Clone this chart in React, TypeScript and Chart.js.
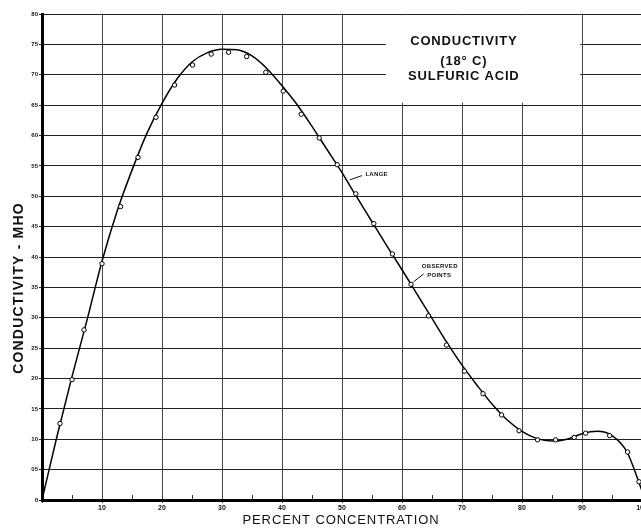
import React, { useEffect, useRef } from "react";
import { Chart, registerables } from "chart.js";

Chart.register(...registerables);

// Observed points
const obsX = [3.0, 5.0, 7.0, 10.0, 13.1, 16.0, 19.0, 22.1, 25.1, 28.2, 31.1, 34.1, 37.3, 40.2, 43.2, 46.2, 49.2, 52.3, 55.3, 58.4, 61.5, 64.4, 67.4, 70.4, 73.5, 76.6, 79.5, 82.6, 85.6, 88.7, 90.6, 94.6, 97.6, 99.5];
const obsY = [12.6, 19.8, 28.0, 38.9, 48.3, 56.4, 63.0, 68.3, 71.6, 73.4, 73.7, 73.0, 70.4, 67.3, 63.5, 59.6, 55.2, 50.4, 45.5, 40.5, 35.5, 30.3, 25.5, 21.2, 17.5, 14.0, 11.4, 9.9, 9.9, 10.3, 11.0, 10.6, 7.9, 3.0];

// Smooth curve (Lange)
const curveX = [0, 2.5, 5, 7.5, 10, 12.5, 15, 17.5, 20, 22.5, 25, 27.5, 30, 32.5, 35, 37.5, 40, 42.5, 45, 47.5, 50, 52.5, 55, 57.5, 60, 62.5, 65, 67.5, 70, 72.5, 75, 77.5, 80, 82.5, 85, 87.5, 90, 92.5, 95, 97.5, 100];
const curveY = [0, 10.5, 20.3, 29.6, 39.3, 47.5, 54.3, 60.4, 65.3, 69.3, 72.1, 73.6, 74.2, 74.1, 73.1, 71.0, 68.2, 65.1, 61.5, 57.7, 53.9, 49.8, 45.8, 41.8, 37.9, 33.9, 29.9, 25.9, 22.2, 18.9, 15.8, 13.2, 11.3, 10.1, 9.7, 10.0, 10.9, 11.3, 10.6, 7.9, 1.5];

const titleLines = ["CONDUCTIVITY", "(18° C)", "SULFURIC ACID"];
const xTitle = "PERCENT CONCENTRATION";
const yTitle = "CONDUCTIVITY - MHO";

const annot = {
  id: "annot",
  beforeDatasetsDraw(chart: any) {
    const { ctx, scales } = chart;
    const xs = scales.x, ys = scales.y;
    ctx.save();
    // white title box
    const bx0 = xs.getPixelForValue(57.3), bx1 = xs.getPixelForValue(89.7);
    const by0 = ys.getPixelForValue(79.8), by1 = ys.getPixelForValue(65.4);
    ctx.fillStyle = "#fff";
    ctx.fillRect(bx0, by0, bx1 - bx0, by1 - by0);
    // minor ticks at 5s on bottom
    ctx.strokeStyle = "#333";
    ctx.lineWidth = 1;
    for (let v = 5; v < 100; v += 10) {
      const px = Math.round(xs.getPixelForValue(v)) + 0.5;
      const py = ys.getPixelForValue(0);
      ctx.beginPath();
      ctx.moveTo(px, py);
      ctx.lineTo(px, py - 5);
      ctx.stroke();
    }
    ctx.restore();
  },
  afterDraw(chart: any) {
    const { ctx, scales } = chart;
    const xs = scales.x, ys = scales.y;
    ctx.save();
    ctx.fillStyle = "#111";
    ctx.textAlign = "center";
    ctx.textBaseline = "middle";
    // title box text
    ctx.font = "bold 13px 'Liberation Sans', Arial, sans-serif";
    (ctx as any).letterSpacing = "0.8px";
    const cx = xs.getPixelForValue(70.3);
    const tys = [75.5, 72.2, 69.7];
    titleLines.forEach((t, i) => ctx.fillText(t, cx, ys.getPixelForValue(tys[i])));
    // axis titles
    ctx.font = "13px 'Liberation Sans', Arial, sans-serif";
    (ctx as any).letterSpacing = "0.9px";
    ctx.fillText(xTitle, 341, 520);
    ctx.save();
    ctx.translate(19, 288);
    ctx.rotate(-Math.PI / 2);
    ctx.font = "bold 14px 'Liberation Sans', Arial, sans-serif";
    (ctx as any).letterSpacing = "1.2px";
    ctx.fillText(yTitle, 0, 0);
    ctx.restore();
    // LANGE label
    (ctx as any).letterSpacing = "0.3px";
    ctx.font = "bold 6px 'Liberation Sans', Arial, sans-serif";
    ctx.textAlign = "left";
    ctx.fillText("LANGE", xs.getPixelForValue(53.9), ys.getPixelForValue(53.6));
    ctx.strokeStyle = "#111";
    ctx.lineWidth = 1;
    ctx.beginPath();
    ctx.moveTo(xs.getPixelForValue(51.3), ys.getPixelForValue(52.7));
    ctx.lineTo(xs.getPixelForValue(53.3), ys.getPixelForValue(53.4));
    ctx.stroke();
    // OBSERVED POINTS label
    ctx.textAlign = "center";
    ctx.fillText("OBSERVED", xs.getPixelForValue(66.3), ys.getPixelForValue(38.5));
    ctx.fillText("POINTS", xs.getPixelForValue(66.2), ys.getPixelForValue(36.9));
    ctx.beginPath();
    ctx.moveTo(xs.getPixelForValue(61.9), ys.getPixelForValue(35.9));
    ctx.lineTo(xs.getPixelForValue(63.6), ys.getPixelForValue(37.2));
    ctx.stroke();
    ctx.restore();
  },
};

export default function App() {
  const ref = useRef<HTMLCanvasElement>(null);
  useEffect(() => {
    if (!ref.current) return;
    const chart = new Chart(ref.current, {
      type: "scatter",
      data: {
        datasets: [
          {
            label: "Observed points",
            data: obsX.map((x, i) => ({ x, y: obsY[i] })),
            showLine: false,
            pointRadius: 2.2,
            pointBorderWidth: 1,
            pointBackgroundColor: "#fff",
            pointBorderColor: "#000",
          },
          {
            label: "Lange",
            data: curveX.map((x, i) => ({ x, y: curveY[i] })),
            showLine: true,
            cubicInterpolationMode: "monotone",
            pointRadius: 0,
            borderColor: "#000",
            borderWidth: 1.5,
          },
        ],
      },
      options: {
        responsive: false,
        animation: false,
        devicePixelRatio: 1,
        layout: { padding: { top: 14, right: 8, left: 0, bottom: 0 } },
        plugins: { legend: { display: false }, tooltip: { enabled: false } },
        scales: {
          x: {
            type: "linear",
            min: 0,
            max: 100,
            afterFit: (s: any) => { s.height = 32; },
            border: { display: true, color: "#000", width: 3 },
            grid: {
              color: (c: any) => (c.tick && c.tick.value % 10 === 0 && c.tick.value > 0 ? "#444" : "rgba(0,0,0,0)"),
              lineWidth: 1,
              tickLength: 3,
              tickColor: "#333",
            },
            ticks: {
              stepSize: 10,
              padding: 1,
              color: "#111",
              font: { size: 7, weight: "bold", family: "'Liberation Sans', Arial, sans-serif" },
              callback: (v: any) => (v === 0 ? "" : String(v)),
              maxRotation: 0,
            },
          },
          y: {
            type: "linear",
            min: 0,
            max: 80,
            afterFit: (s: any) => { s.width = 42; },
            border: { display: true, color: "#000", width: 3 },
            grid: { color: "#222", lineWidth: 1, tickLength: 3, tickColor: "#222" },
            ticks: {
              stepSize: 5,
              padding: 1,
              color: "#111",
              font: { size: 6, weight: "bold", family: "'Liberation Sans', Arial, sans-serif" },
              callback: (v: any) => (v === 5 ? "05" : String(v)),
            },
          },
        },
      },
      plugins: [annot],
    } as any);
    return () => chart.destroy();
  }, []);
  return (
    <div style={{ position: "fixed", left: 0, top: 0, width: 641, height: 532, overflow: "hidden", background: "#fff" }}>
      <canvas ref={ref} width={650} height={532} style={{ width: 650, height: 532, display: "block" }} />
    </div>
  );
}
